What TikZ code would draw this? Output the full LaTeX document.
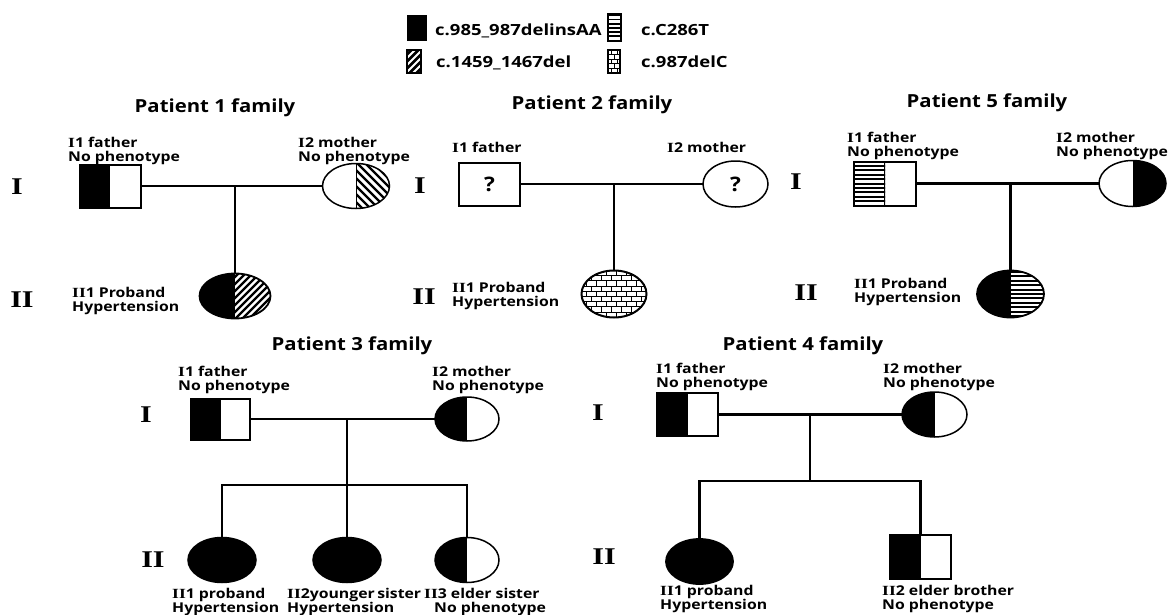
\documentclass[tikz,border=0pt]{standalone}
\usepackage{fontspec}
\setmainfont{Open Sans}
\newfontfamily\labf{Open Sans}[FakeStretch=1.17]
\newfontfamily\titf{Open Sans}[FakeStretch=1.13]
\newfontfamily\legf{Open Sans}[FakeStretch=1.2]
\newfontfamily\romf{Liberation Serif}[FakeStretch=1.25]
\usetikzlibrary{shapes.geometric}
\newcommand\rI{{\romf\bfseries\fontsize{14}{14}\selectfont I}}
\tikzset{
  conn/.style={line width=2.1pt},
  symb/.style={draw, line width=2pt, inner sep=0pt, outer sep=0pt, fill=white},
  sq/.style={symb, rectangle, minimum width=61pt, minimum height=43pt},
  ci/.style={symb, ellipse, line width=1.5pt, minimum width=66pt, minimum height=45pt},
  lab/.style={anchor=west, align=left, inner sep=0pt, font=\labf\bfseries\fontsize{13.5}{14}\selectfont},
  titl/.style={anchor=base, inner sep=0pt, font=\titf\bfseries\fontsize{18}{20}\selectfont},
  gen/.style={inner sep=0pt, font=\romf\bfseries\fontsize{24}{24}\selectfont},
  legt/.style={anchor=base west, inner sep=0pt, font=\legf\bfseries\fontsize{15.4}{17}\selectfont},
  qm/.style={font=\titf\bfseries\fontsize{20}{20}\selectfont},
  lblack/.style={path picture={\fill[black] (path picture bounding box.north west) rectangle (path picture bounding box.south);}},
  rblack/.style={path picture={\fill[black] (path picture bounding box.north) rectangle (path picture bounding box.south east);}},
  hatchR/.style={path picture={
    \clip (path picture bounding box.north) rectangle (path picture bounding box.south east);
    \foreach \d in {-96,-88,...,96} \draw[line width=2.4pt] ([xshift=\d pt]path picture bounding box.center) ++(-40,-40) -- ++(80,80);
    \draw[line width=1.2pt] (path picture bounding box.north) -- (path picture bounding box.south);}},
  blackhatch/.style={path picture={
    \fill[black] (path picture bounding box.north west) rectangle (path picture bounding box.south);
    \clip (path picture bounding box.north) rectangle (path picture bounding box.south east);
    \foreach \d in {-96,-89,...,96} \draw[line width=2.4pt] ([xshift=\d pt]path picture bounding box.center) ++(-40,40) -- ++(80,-80);}},
  hstripeL/.style={path picture={
    \clip (path picture bounding box.north west) rectangle (path picture bounding box.south);
    \foreach \y in {-30.8,-26.4,...,31} \draw[line width=2pt] ([yshift=\y pt]path picture bounding box.center) ++(-50,0) -- ++(100,0);
    \draw[line width=1.8pt] (path picture bounding box.north) -- (path picture bounding box.south);}},
  blackhstripe/.style={path picture={
    \fill[black] (path picture bounding box.north west) rectangle (path picture bounding box.south);
    \clip (path picture bounding box.north) rectangle (path picture bounding box.south east);
    \foreach \y in {-30.8,-26.4,...,31} \draw[line width=2pt] ([yshift=\y pt]path picture bounding box.center) ++(-50,0) -- ++(100,0);}},
  hstripeAll/.style={path picture={
    \foreach \y in {-16.8,-12.6,...,18} \draw[line width=1.8pt] ([yshift=\y pt]path picture bounding box.center) ++(-20,0) -- ++(40,0);}},
  diagAll/.style={path picture={
    \foreach \d in {-28,-21,...,28} \draw[line width=2.6pt] ([xshift=\d pt]path picture bounding box.center) ++(-20,20) -- ++(40,-40);}},
  brick/.style 2 args={path picture={
      \foreach \y in {0,#1,...,60} \draw[line width=1pt] (path picture bounding box.north west) ++(-2,\y) -- ++(94,0);
      \foreach \y [count=\k] in {0,#1,...,60} {
        \pgfmathsetmacro\off{mod(\k,2)*#2/2}
        \foreach \x in {0,#2,...,90} \draw[line width=1pt] (path picture bounding box.north west) ++(\x+\off,\y) -- ++(0,#1);
      }}}
}
\begin{document}
\begin{tikzpicture}[x=1pt,y=-1pt]
\useasboundingbox (0,0) rectangle (1174,615);
\fill[white] (0,0) rectangle (1174,615);

% ---------- legend ----------
\node[draw, fill=black, line width=1pt, minimum width=19pt, minimum height=25pt, inner sep=0pt] (lg1) at (416.5,28.5) {};
\node[legt] (lt1) at (435,36) {c.985\_987delinsAA};
\node[draw, fill=white, line width=2pt, minimum width=13pt, minimum height=27pt, inner sep=0pt, hstripeAll] (lg2) at (614.5,28) {};
\node[legt] (lt2) at (641,36) {c.C286T};
\node[draw, fill=white, line width=1.8pt, minimum width=14pt, minimum height=23pt, inner sep=0pt, diagAll] (lg3) at (414,61.5) {};
\node[legt] (lt3) at (436,68) {c.1459\_1467del};
\node[draw, fill=white, line width=1.6pt, minimum width=12pt, minimum height=23pt, inner sep=0pt, brick={4.6}{6}] (lg4) at (614,61.5) {};
\node[legt] (lt4) at (641,68) {c.987delC};

% ---------- Patient 1 family ----------
\node[titl] (t1) at (215,113) {Patient 1 family};
\node[gen] (g1a) at (17,187) {I};
\node[gen] (g1b) at (22,300) {II};
\node[sq, lblack] (p1f) at (110,186) {};
\node[ci, hatchR, minimum width=67pt] (p1m) at (356,186) {};
\node[ci, blackhatch, line width=1.8pt, minimum width=71pt] (p1c) at (235,296) {};
\node[lab] (p1fl) at (68,151) {\rI1 father\\No phenotype};
\node[lab] (p1ml) at (298,151) {\rI2 mother\\No phenotype};
\node[lab] (p1cl) at (72,301) {\rI\rI1 Proband\\Hypertension};
\draw[conn] (p1f.east) -- (p1m.west);
\coordinate (p1j) at (p1c.north |- p1f.east);
\draw[conn] (p1j) -- (p1c.north);

% ---------- Patient 2 family ----------
\node[titl] (t2) at (592,110) {Patient 2 family};
\node[gen] (g2a) at (420,186) {I};
\node[gen] (g2b) at (424,297) {II};
\node[sq, qm] (p2f) at (489.5,184) {?};
\node[ci, qm, minimum width=65pt, minimum height=46pt] (p2m) at (735.5,184) {?};
\node[ci, line width=2pt, minimum width=65pt, minimum height=47pt, brick={5.2}{10}] (p2c) at (614,294) {};
\node[lab] (p2fl) at (452,147) {\rI1 father};
\node[lab] (p2ml) at (667,147) {\rI2 mother};
\node[lab] (p2cl) at (452,296) {\rI\rI1 Proband\\Hypertension};
\draw[conn] (p2f.east) -- (p2m.west);
\coordinate (p2j) at (p2c.north |- p2f.east);
\draw[conn] (p2j) -- (p2c.north);

% ---------- Patient 5 family ----------
\node[titl] (t5) at (987,107) {Patient 5 family};
\node[gen] (g5a) at (796,182) {I};
\node[gen] (g5b) at (806,293) {II};
\node[sq, hstripeL, minimum width=62pt, minimum height=44pt] (p5f) at (885,183.5) {};
\node[ci, rblack, minimum width=67pt, minimum height=46pt] (p5m) at (1132.5,183.5) {};
\node[ci, blackhstripe, line width=1.8pt, minimum width=67pt, minimum height=47pt] (p5c) at (1010.5,294) {};
\node[lab] (p5fl) at (847,146) {\rI1 father\\No phenotype};
\node[lab] (p5ml) at (1056,146) {\rI2 mother\\No phenotype};
\node[lab] (p5cl) at (854,291.5) {\rI\rI1 Proband\\Hypertension};
\draw[conn] (p5f.east) -- (p5m.west);
\coordinate (p5j) at (p5c.north |- p5f.east);
\draw[conn] (p5j) -- (p5c.north);

% ---------- Patient 3 family ----------
\node[titl] (t3) at (352,350) {Patient 3 family};
\node[gen] (g3a) at (146,415) {I};
\node[gen] (g3b) at (153,560) {II};
\node[sq, lblack, minimum width=59pt, minimum height=41pt] (p3f) at (220.5,419) {};
\node[ci, lblack, minimum width=64pt, minimum height=44pt] (p3m) at (467,419) {};
\node[ci, fill=black, minimum width=68pt] (p3c1) at (222,560) {};
\node[ci, fill=black, minimum width=68pt] (p3c2) at (347,560) {};
\node[ci, lblack, minimum width=64pt] (p3c3) at (467,560) {};
\node[lab] (p3fl) at (178,380) {\rI1 father\\No phenotype};
\node[lab] (p3ml) at (432,380) {\rI2 mother\\No phenotype};
\node[lab] (p3c1l) at (172,602) {\rI\rI1 proband\\Hypertension};
\node[lab] (p3c2l) at (287,602) {\rI\rI2younger\hspace{2.5pt}sister\\Hypertension};
\node[lab] (p3c3l) at (424,602) {\rI\rI3 elder sister\\\hspace*{10pt}No phenotype};
\draw[conn] (p3f.east) -- (p3m.west);
\coordinate (p3j) at (p3c2.north |- p3f.east);
\coordinate (p3s) at (347,485);
\draw[conn] (p3j) -- (p3s);
\draw[conn] (p3c1.north) -- (p3c1.north |- p3s) -- (p3c3.north |- p3s) -- (p3c3.north);
\draw[conn] (p3s) -- (p3c2.north);

% ---------- Patient 4 family ----------
\node[titl] (t4) at (803,350) {Patient 4 family};
\node[gen] (g4a) at (598,413) {I};
\node[gen] (g4b) at (604,557) {II};
\node[sq, lblack] (p4f) at (687.5,414.5) {};
\node[ci, lblack, minimum width=65pt] (p4m) at (934.5,414.5) {};
\node[ci, fill=black, line width=1.8pt, minimum width=67pt] (p4c1) at (699.5,561.5) {};
\node[sq, lblack, minimum height=44pt] (p4c2) at (920.5,557) {};
\node[lab] (p4fl) at (656,377) {\rI1 father\\No phenotype};
\node[lab] (p4ml) at (883,377) {\rI2 mother\\No phenotype};
\node[lab] (p4c1l) at (660,599) {\rI\rI1 proband\\Hypertension};
\node[lab] (p4c2l) at (882,599) {\rI\rI2 elder brother\\No phenotype};
\draw[conn] (p4f.east) -- (p4m.west);
\coordinate (p4j) at (810,414.5);
\coordinate (p4s) at (810,481);
\draw[conn] (p4j) -- (p4s);
\draw[conn] (p4c1.north) -- (p4c1.north |- p4s) -- (p4c2.north |- p4s) -- (p4c2.north);
\end{tikzpicture}
\end{document}
